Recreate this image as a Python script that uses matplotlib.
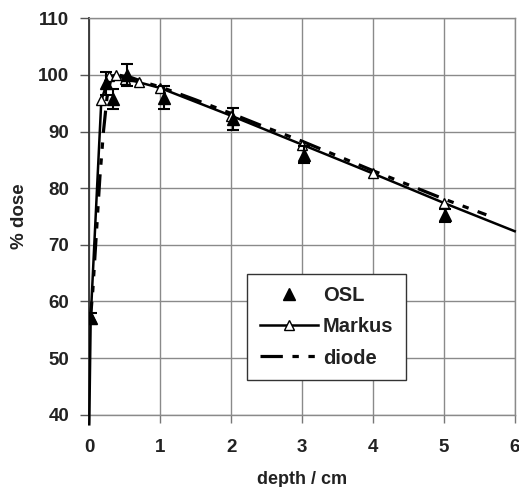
import matplotlib
matplotlib.use('Agg')
import matplotlib.pyplot as plt
from matplotlib.lines import Line2D

# OSL measurements (filled triangles with error bars)
osl_depth = [0.02, 0.23, 0.34, 0.53, 1.05, 2.03, 3.03, 5.02]
osl_dose = [57.0, 98.5, 95.7, 100.0, 96.0, 92.2, 85.9, 75.2]
osl_err = [0.9, 2.0, 1.8, 2.0, 2.0, 1.9, 1.5, 1.2]

# Markus chamber (solid line, open triangles at measured depths)
markus_depth = [0.02, 0.17, 0.28, 0.38, 0.5, 0.7, 1.0, 2.0, 3.0, 4.0, 5.0]
markus_dose = [57.0, 95.5, 99.8, 100.0, 99.3, 98.7, 97.7, 92.8, 87.7, 82.6, 77.4]
markus_line_depth = [0.0, 0.02, 0.17, 0.28, 0.38, 0.5, 0.7, 1.0, 2.0, 3.0, 4.0, 5.0, 6.0]
markus_line_dose = [38.3, 57.0, 95.5, 99.8, 100.0, 99.3, 98.7, 97.7, 92.8, 87.7, 82.6, 77.4, 72.4]

# diode (dash-dot-dot line)
diode_depth = [0.01, 0.05, 0.1, 0.15, 0.2, 0.25, 0.3, 0.4, 0.6, 0.8, 1.0, 1.5,
               2.0, 2.5, 3.0, 3.5, 4.0, 4.5, 5.0, 5.6]
diode_dose = [56.0, 62.0, 72.0, 82.0, 90.0, 96.0, 99.0, 100.0, 99.5, 98.6, 97.9, 95.6,
              93.2, 90.7, 88.3, 85.7, 83.1, 80.6, 78.1, 75.3]

x_ticks = [0, 1, 2, 3, 4, 5, 6]
y_ticks = [40, 50, 60, 70, 80, 90, 100, 110]

plt.rcParams['font.family'] = ['Liberation Sans', 'DejaVu Sans']
plt.rcParams['font.weight'] = 'bold'

fig = plt.figure(figsize=(5.19, 4.87), dpi=100)
ax = fig.add_axes([0.172, 0.1485, 0.8197, 0.8139])

grid_col = '#8a8a8a'
ax.set_xlim(0, 6)
ax.set_ylim(40, 110)
ax.set_xticks(x_ticks)
ax.set_yticks(y_ticks)
ax.grid(True, color=grid_col, lw=1.0)
ax.set_axisbelow(True)
for s in ['top', 'right', 'bottom']:
    ax.spines[s].set_color(grid_col)
    ax.spines[s].set_linewidth(1.0)
ax.spines['left'].set_color('#333333')
ax.spines['left'].set_linewidth(1.3)
ax.tick_params(axis='y', length=6.5, width=1.0, color='#555555', pad=8,
               labelsize=13.5, labelcolor='#222222')
ax.tick_params(axis='x', length=6, width=1.0, color='#777777', pad=11.5,
               labelsize=13.5, labelcolor='#222222')
for lab in ax.get_xticklabels() + ax.get_yticklabels():
    lab.set_fontweight('bold')

dd = (0, (7, 3, 2, 3, 2, 3))
ax.plot(diode_depth, diode_dose, color='black', lw=2.3, ls=dd, zorder=3)
ax.plot(markus_line_depth, markus_line_dose, color='black', lw=1.8, zorder=4,
        clip_on=False)
ax.plot(markus_depth, markus_dose, ls='none', marker='^', ms=6.5, mfc='white',
        mec='black', mew=1.0, zorder=5)
ax.errorbar(osl_depth, osl_dose, yerr=osl_err, fmt='^', color='black', ms=8,
            elinewidth=1.5, capsize=4.5, capthick=1.5, zorder=6)

ax.set_xlabel('depth / cm', fontsize=13, fontweight='bold', color='#222222', labelpad=11)
ax.set_ylabel('% dose', fontsize=13.5, fontweight='bold', color='#222222', labelpad=7)

handles = [
    Line2D([], [], ls='none', marker='^', ms=8, color='black'),
    Line2D([], [], color='black', lw=1.8, marker='^', ms=6.5, mfc='white', mec='black'),
    Line2D([], [], color='black', lw=2.3, ls=dd),
]
leg = ax.legend(handles, ['OSL', 'Markus', 'diode'], loc='lower left',
                bbox_to_anchor=(0.371, 0.0875), borderaxespad=0,
                prop={'weight': 'bold', 'size': 14.5}, handlelength=2.9,
                handletextpad=0.25, labelspacing=0.6, borderpad=0.62,
                fancybox=False, framealpha=1, edgecolor='#333333')
leg.get_frame().set_linewidth(1.0)
for t in leg.get_texts():
    t.set_color('#222222')

fig.savefig('out.png', dpi=100)
